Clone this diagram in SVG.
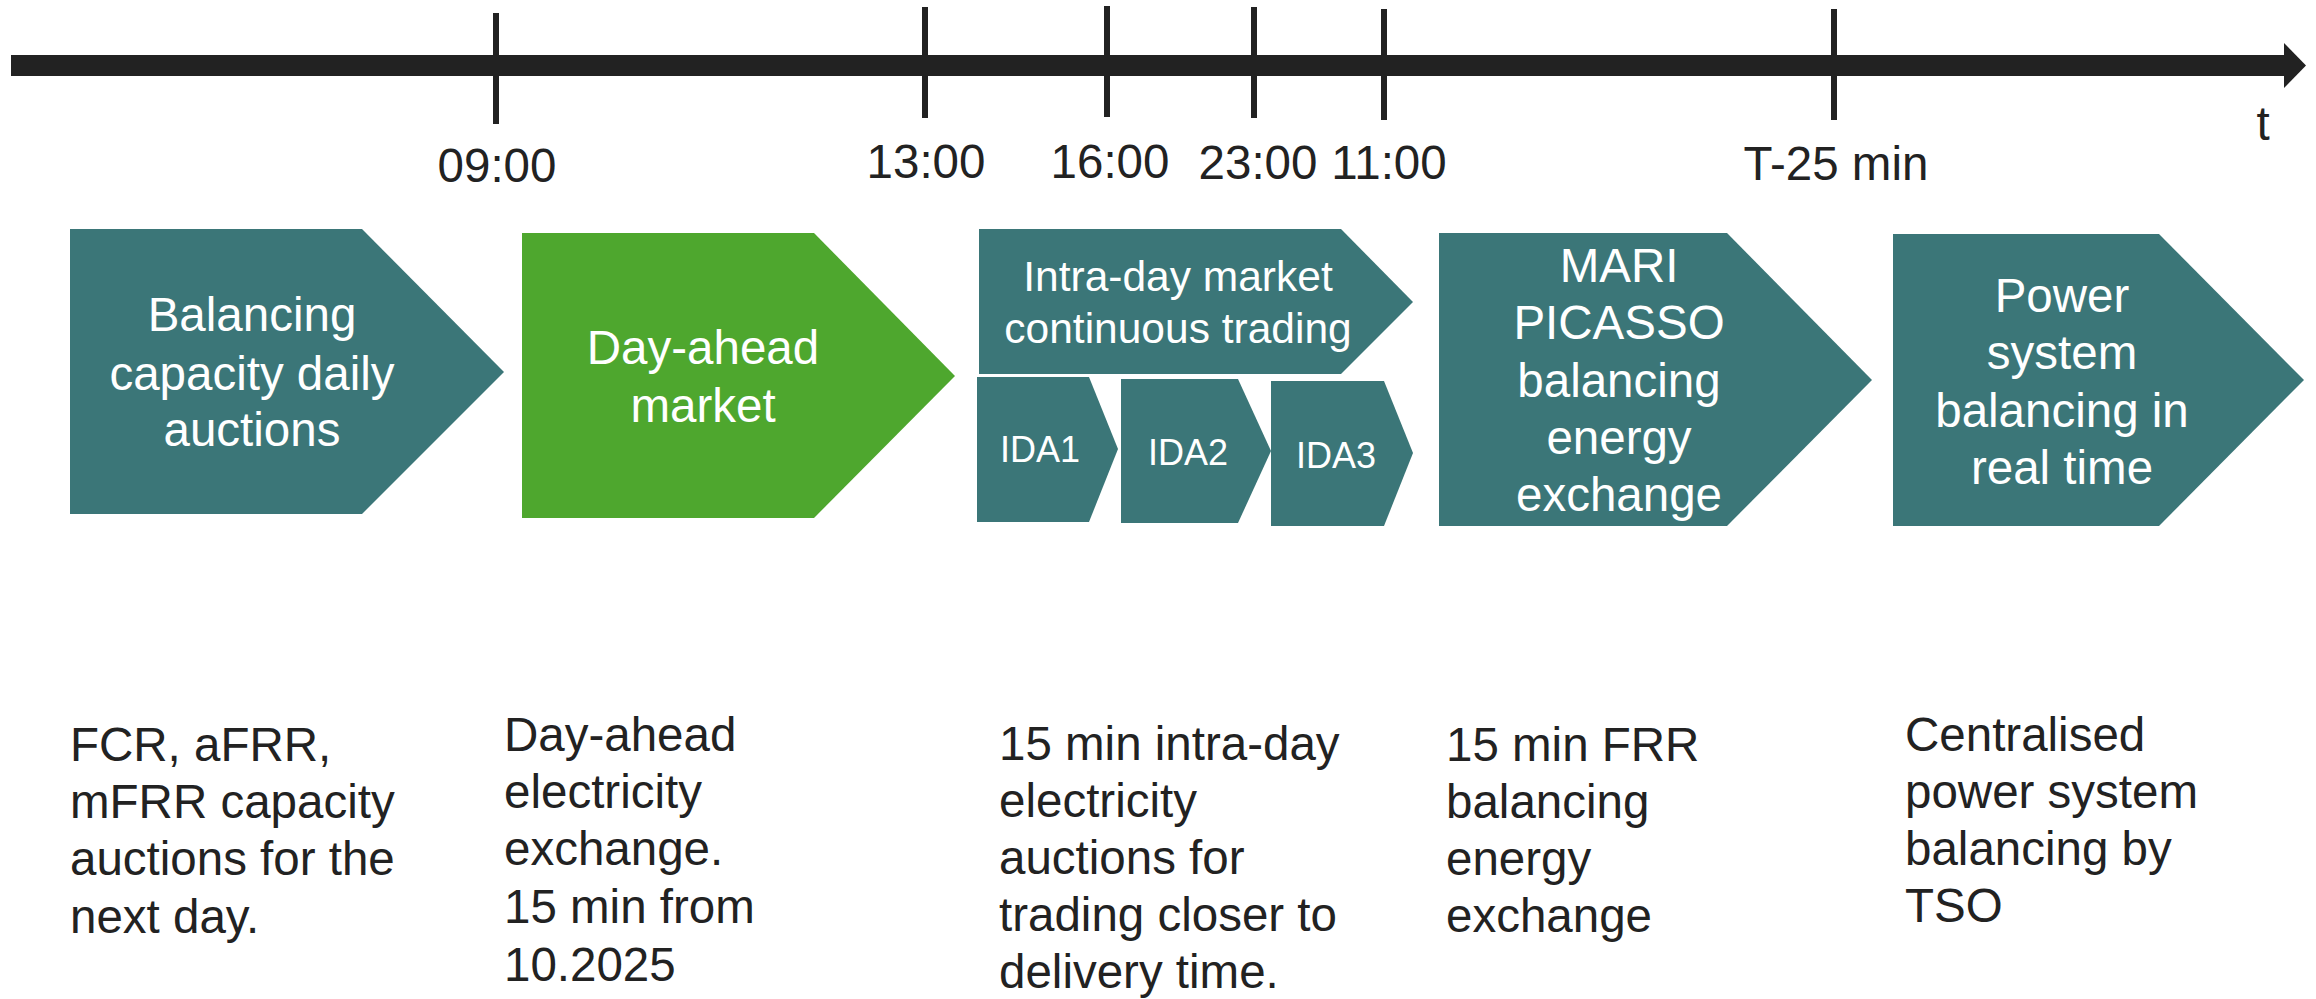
<svg xmlns="http://www.w3.org/2000/svg" width="2316" height="999" viewBox="0 0 2316 999">
<style>
.t{font-family:"Liberation Sans",Arial,sans-serif;}
.ax{font-size:47.5px;fill:#222;text-anchor:middle;}
.box{fill:#3B7678;}
.green{fill:#4EA72E;}
.w{fill:#fff;text-anchor:middle;font-size:47.5px;}
.w42{fill:#fff;text-anchor:middle;font-size:42.5px;}
.w36{fill:#fff;text-anchor:middle;font-size:36px;}
.d{fill:#222;font-size:47.5px;}
.tick{stroke:#222;stroke-width:6;}
</style>
<rect width="2316" height="999" fill="#fff"/>
<g id="timeline">
  <rect x="11" y="55" width="2275" height="21" fill="#222"/>
  <polygon points="2284,43 2306,65.5 2284,88" fill="#222"/>
  <line class="tick" x1="496" y1="13" x2="496" y2="124"/>
  <line class="tick" x1="925" y1="7" x2="925" y2="118"/>
  <line class="tick" x1="1107" y1="6" x2="1107" y2="117"/>
  <line class="tick" x1="1254" y1="7" x2="1254" y2="118"/>
  <line class="tick" x1="1384" y1="9" x2="1384" y2="120"/>
  <line class="tick" x1="1834" y1="9" x2="1834" y2="120"/>
  <text class="t ax" x="497" y="182">09:00</text>
  <text class="t ax" x="926" y="178">13:00</text>
  <text class="t ax" x="1110" y="178">16:00</text>
  <text class="t ax" x="1258" y="179">23:00</text>
  <text class="t ax" x="1389" y="179">11:00</text>
  <text class="t ax" x="1836" y="180">T-25 min</text>
  <text class="t ax" x="2263" y="140">t</text>
</g>
<g id="connectors"></g>
<g id="balancing-capacity">
  <polygon class="box" points="70,229 362,229 504,372 362,514 70,514"/>
  <text class="t w" x="252" y="331">Balancing</text>
  <text class="t w" x="252" y="390">capacity daily</text>
  <text class="t w" x="252" y="446">auctions</text>
</g>
<g id="day-ahead">
  <polygon class="green" points="522,233 814,233 955,376 814,518 522,518"/>
  <text class="t w" x="703" y="364">Day-ahead</text>
  <text class="t w" x="703" y="422">market</text>
</g>
<g id="intra-day">
  <polygon class="box" points="979,229 1341,229 1413,302 1341,374 979,374"/>
  <text class="t w42" x="1178" y="291">Intra-day market</text>
  <text class="t w42" x="1178" y="343">continuous trading</text>
</g>
<g id="ida1">
  <polygon class="box" points="977,377 1089,377 1118,449 1089,522 977,522"/>
  <text class="t w36" x="1040" y="462">IDA1</text>
</g>
<g id="ida2">
  <polygon class="box" points="1121,379 1238,379 1271,451 1238,523 1121,523"/>
  <text class="t w36" x="1188" y="465">IDA2</text>
</g>
<g id="ida3">
  <polygon class="box" points="1271,381 1384,381 1413,453 1384,526 1271,526"/>
  <text class="t w36" x="1336" y="468">IDA3</text>
</g>
<g id="mari-picasso">
  <polygon class="box" points="1439,233 1727,233 1872,380 1727,526 1439,526"/>
  <text class="t w" x="1619" y="282">MARI</text>
  <text class="t w" x="1619" y="339">PICASSO</text>
  <text class="t w" x="1619" y="397">balancing</text>
  <text class="t w" x="1619" y="454">energy</text>
  <text class="t w" x="1619" y="511">exchange</text>
</g>
<g id="power-system">
  <polygon class="box" points="1893,234 2159,234 2304,380 2159,526 1893,526"/>
  <text class="t w" x="2062" y="312">Power</text>
  <text class="t w" x="2062" y="369">system</text>
  <text class="t w" x="2062" y="427">balancing in</text>
  <text class="t w" x="2062" y="484">real time</text>
</g>
<g id="desc-balancing">
  <text class="t d" x="70" y="761">FCR, aFRR,</text>
  <text class="t d" x="70" y="818">mFRR capacity</text>
  <text class="t d" x="70" y="875">auctions for the</text>
  <text class="t d" x="70" y="933">next day.</text>
</g>
<g id="desc-day-ahead">
  <text class="t d" x="504" y="751">Day-ahead</text>
  <text class="t d" x="504" y="808">electricity</text>
  <text class="t d" x="504" y="865">exchange.</text>
  <text class="t d" x="504" y="923">15 min from</text>
  <text class="t d" x="504" y="981">10.2025</text>
</g>
<g id="desc-intra-day">
  <text class="t d" x="999" y="760">15 min intra-day</text>
  <text class="t d" x="999" y="817">electricity</text>
  <text class="t d" x="999" y="874">auctions for</text>
  <text class="t d" x="999" y="931">trading closer to</text>
  <text class="t d" x="999" y="988">delivery time.</text>
</g>
<g id="desc-frr">
  <text class="t d" x="1446" y="761">15 min FRR</text>
  <text class="t d" x="1446" y="818">balancing</text>
  <text class="t d" x="1446" y="875">energy</text>
  <text class="t d" x="1446" y="932">exchange</text>
</g>
<g id="desc-tso">
  <text class="t d" x="1905" y="751">Centralised</text>
  <text class="t d" x="1905" y="808">power system</text>
  <text class="t d" x="1905" y="865">balancing by</text>
  <text class="t d" x="1905" y="922">TSO</text>
</g>
</svg>
